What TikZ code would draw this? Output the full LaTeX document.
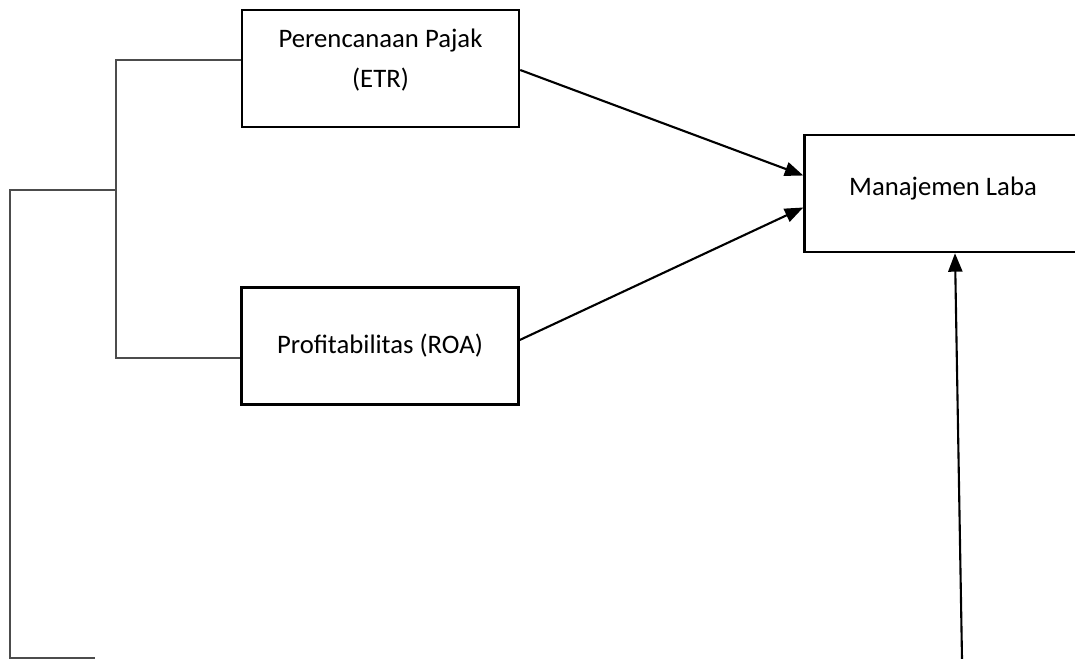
\documentclass[tikz,border=0pt]{standalone}
\usepackage{fontspec}
\setmainfont{Carlito}
\usepackage{tikz}
\usetikzlibrary{arrows.meta,calc}

\begin{document}
\begin{tikzpicture}[x=0.02cm,y=-0.02cm,
  >={Triangle[length=10.5pt,width=8pt]},
  kotak/.style={draw,line width=1.4pt,minimum width=277*0.02cm,
    minimum height=117*0.02cm,align=center,inner sep=0pt,
    font=\fontsize{15.2}{22.7}\selectfont},
  panah/.style={->,line width=1.2pt},
  garis/.style={draw=black!70,line width=0.6pt}]
  \useasboundingbox (0,0) rectangle (1075,659);
  \clip (0,0) rectangle (1075,659);

  \node[kotak,text depth=12pt] (etr)  at (380.5,68.5) {Perencanaan Pajak\\(ETR)};
  \node[kotak,text depth=3pt]  (roa)  at (380,346)    {Profitabilitas (ROA)};
  \node[kotak,text depth=8pt]  (laba) at (943,193.5)  {Manajemen Laba};

  \coordinate (tengah) at (116,190);
  \coordinate (bawah)  at (962,659);

  % garis penghubung kiri
  \draw[garis] ($(etr.west)+(0,-8.5)$) -| (tengah) |- ($(roa.west)+(0,12)$);
  \draw[garis] (tengah) -- (10,190) -- (10,658) -- (95,658);

  \draw[panah] ($(etr.east)+(0,1.5)$) -- ($(laba.west)+(0,-18)$);
  \draw[panah] ($(roa.east)+(0,-6)$)  -- ($(laba.west)+(0,14)$);
  \draw[panah] (bawah) -- ($(laba.south)+(12,0)$);
\end{tikzpicture}
\end{document}
